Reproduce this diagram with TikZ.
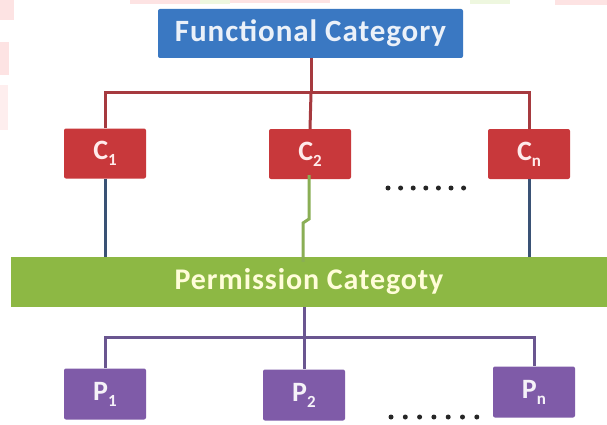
\documentclass[tikz,border=0pt]{standalone}
\usepackage{fontspec}
\setmainfont{Carlito}
\newfontfamily\widefont[LetterSpace=3]{Carlito}
\definecolor{fblue}{HTML}{3A78C2}
\definecolor{cred}{HTML}{C8383B}
\definecolor{pgreen}{HTML}{8DB844}
\definecolor{ppurple}{HTML}{7F5BA8}
\definecolor{lred}{HTML}{A63A3F}
\definecolor{lblue}{HTML}{3A5275}
\definecolor{lgreen}{HTML}{8AAE55}
\definecolor{lpurple}{HTML}{6A5690}
\definecolor{artpink}{HTML}{FDE3E3}
\definecolor{artgreen}{HTML}{EEF7DF}
\tikzset{
  box/.style={rounded corners=2pt, inner sep=0pt, font=\bfseries},
  cbox/.style={box, fill=cred, minimum width=82pt, minimum height=50pt, text=red!8!white, font=\bfseries\fontsize{28}{28}\selectfont},
  pbox/.style={box, fill=ppurple, minimum width=82pt, minimum height=51pt, text=white!92!ppurple, font=\bfseries\fontsize{28}{28}\selectfont},
  redline/.style={draw=lred, line width=3pt},
  blueline/.style={draw=lblue, line width=3pt},
  greenline/.style={draw=lgreen, line width=3pt},
  purpleline/.style={draw=lpurple, line width=3pt},
  dotty/.style={fill=black!85, draw=none}
}
\newcommand{\sbx}[1]{\raisebox{-0.45ex}{\fontsize{17}{17}\selectfont #1}}
\begin{document}
\begin{tikzpicture}[x=1pt,y=-1pt]
\useasboundingbox (0,0) rectangle (607,425);
\fill[white] (0,0) rectangle (607,425);
% edge artifacts
\fill[artpink] (0,0) rectangle (14,20);
\fill[artpink] (0,42) rectangle (9,75);
\fill[artpink!60] (0,85) rectangle (8,130);
\fill[artpink] (130,0) rectangle (200,4);
\fill[artgreen] (200,0) rectangle (230,4);
\fill[artpink] (230,0) rectangle (330,3);
\fill[artgreen] (470,0) rectangle (510,4);
\fill[artpink] (555,0) rectangle (607,5);

% nodes
\node[box, fill=fblue, minimum width=305pt, minimum height=49pt, text=white!90!fblue,
      font=\widefont\bfseries\fontsize{31}{31}\selectfont] (fc) at (310.5,33.5) {Functional Category};
\node[cbox] (c1) at (105,153.5) {C\sbx{1}};
\node[cbox] (c2) at (310,154) {C\sbx{2}};
\node[cbox] (cn) at (529,154) {C\sbx{n}};
\node[box, rounded corners=0pt, fill=pgreen, minimum width=596pt, minimum height=50pt, text=white!85!yellow,
      font=\widefont\bfseries\fontsize{30}{30}\selectfont] (pc) at (309,282) {Permission Categoty};
\node[pbox] (p1) at (105,394) {P\sbx{1}};
\node[pbox] (p2) at (304,395) {P\sbx{2}};
\node[pbox] (pn) at (534,392) {P\sbx{n}};

% connector helpers
\coordinate (rj) at (311,93);
\coordinate (pj) at (304,337);
\coordinate (g1) at (309,219);
\coordinate (g2) at (303,223);

% top red connectors
\draw[redline] (fc.south -| rj) -- (rj);
\draw[redline] (c1.north) |- (rj) -| (cn.north);
\draw[redline] (rj) -- (c2.north);

% C to permission
\draw[blueline] (c1.south) -- (c1.south |- pc.north);
\draw[blueline] (cn.south) -- (cn.south |- pc.north);
\draw[greenline] ([yshift=4pt]c2.south -| g1) -- (g1) -- (g2) -- ([yshift=-5pt]pc.north -| g2);

% bottom purple connectors
\draw[purpleline] (pc.south -| pj) -- (p2.north);
\draw[purpleline] (p1.north) |- (pj) -| (pn.north);

% dots
\foreach \i in {0,...,6} {
  \fill[dotty] ({388+\i*12.6},188) circle (2.5pt);
  \fill[dotty] ({391+\i*14.3},417) circle (2.5pt);
}
\end{tikzpicture}
\end{document}
